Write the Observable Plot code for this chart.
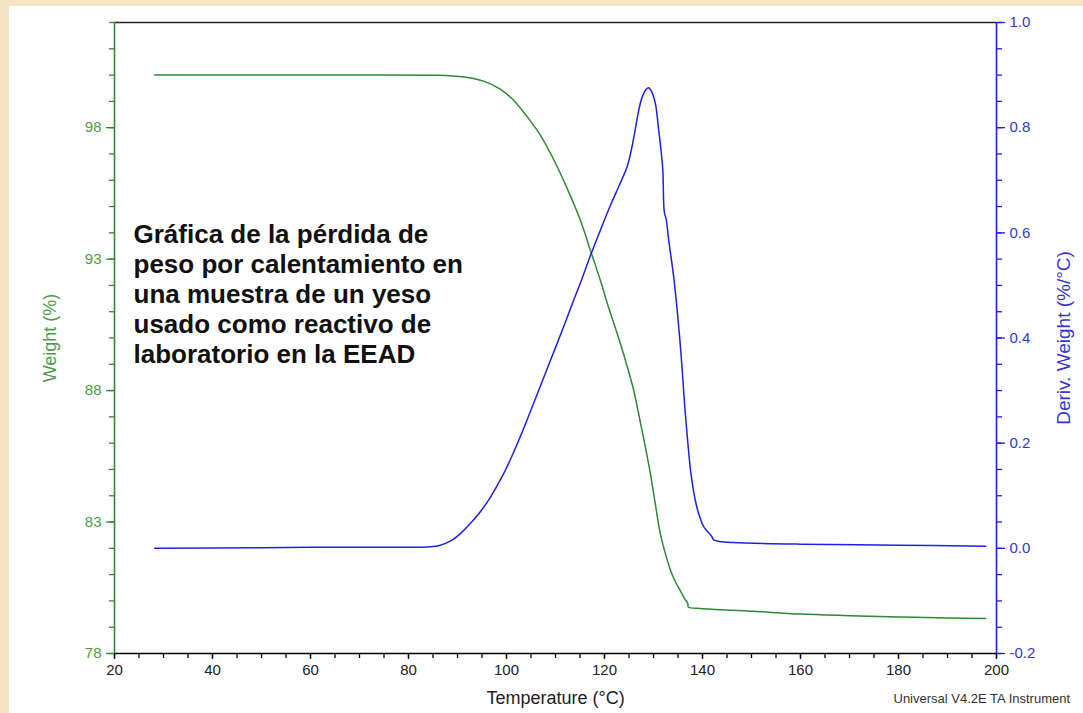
<!DOCTYPE html>
<html>
<head>
<meta charset="utf-8">
<script src="https://cdn.jsdelivr.net/npm/d3@7"></script>
<script src="https://cdn.jsdelivr.net/npm/@observablehq/plot@0.6"></script>
<style>
  html, body { margin: 0; padding: 0; width: 1083px; height: 713px; overflow: hidden; background: #f6e4c2; }
  #panel { position: absolute; left: 9px; top: 6px; width: 1074px; height: 707px; background: #ffffff; }
  #chart { position: absolute; left: 0; top: 0; }
</style>
</head>
<body>
<div id="panel"></div>
<div id="chart"></div>
<script>
// Weight (%) curve
const weightTemp = [28.2, 50, 70, 86, 88.6, 92.0, 95.3, 98.8, 101.4, 104.2, 106.9, 109.6, 112.4, 115.1, 117.1, 119.2, 120.6, 123.3, 125.9, 127.2, 128.4, 129.4, 130.4, 131.4, 132.5, 133.5, 134.5, 135.5, 136.3, 137.0, 137.1, 139.6, 150, 160, 170, 180, 190, 197.8];
const weightVal  = [100.0, 100.0, 100.0, 99.99, 99.97, 99.91, 99.77, 99.46, 99.05, 98.42, 97.72, 96.80, 95.68, 94.47, 93.35, 92.17, 91.30, 89.75, 88.05, 86.9, 85.8, 84.8, 83.65, 82.55, 81.75, 81.15, 80.72, 80.38, 80.10, 79.90, 79.77, 79.71, 79.61, 79.50, 79.44, 79.39, 79.35, 79.33];

// Derivative weight (%/°C) curve
const derivTemp = [28.2, 50, 60, 80, 84.5, 86.5, 88.6, 90.7, 92.7, 94.7, 96.7, 98.8, 100.8, 103.5, 106.3, 109, 111.6, 113.8, 115.1, 117.1, 119.2, 121.2, 123, 124.6, 125.3, 126, 126.7, 127.3, 127.8, 128.5, 129.0, 129.6, 130.4, 131.0, 131.5, 131.9, 132.2, 132.6, 133.1, 134.2, 135.5, 136.5, 137.6, 138.2, 138.8, 139.5, 140.2, 141.0, 141.8, 142.3, 143.5, 146.3, 160, 180, 197.8];
const derivVal  = [0.000, 0.001, 0.002, 0.002, 0.003, 0.006, 0.014, 0.029, 0.048, 0.070, 0.097, 0.131, 0.169, 0.228, 0.294, 0.358, 0.420, 0.474, 0.505, 0.556, 0.606, 0.652, 0.690, 0.725, 0.750, 0.782, 0.819, 0.846, 0.861, 0.873, 0.876, 0.869, 0.845, 0.800, 0.760, 0.720, 0.640, 0.625, 0.586, 0.510, 0.383, 0.256, 0.145, 0.108, 0.080, 0.058, 0.042, 0.032, 0.024, 0.016, 0.013, 0.011, 0.008, 0.006, 0.004];

// Tick values
const xTicks = [20, 40, 60, 80, 100, 120, 140, 160, 180, 200];
const xMinorTicks = d3.range(20, 200.01, 5);
const weightTicks = [78, 83, 88, 93, 98];
const weightMinorTicks = d3.range(78, 102.01, 1);
const derivTicks = [-0.2, 0.0, 0.2, 0.4, 0.6, 0.8, 1.0];
const derivMinorTicks = d3.range(-0.2, 1.001, 0.05);

const annotation = "Gráfica de la pérdida de\npeso por calentamiento en\nuna muestra de un yeso\nusado como reactivo de\nlaboratorio en la EEAD";

const green = "#2e8a33", greenText = "#4a9e4a";
const blue = "#2020e0", blueText = "#3636cc";

// map derivative values onto the weight scale (right axis [-0.2,1.0] <-> left axis [78,102])
const toW = d => 78 + (d + 0.2) * 20;
const fromW = w => Math.round(((w - 78) / 20 - 0.2) * 10) / 10;

const weightData = weightTemp.map((t, i) => ({t, v: weightVal[i]}));
const derivData = derivTemp.map((t, i) => ({t, v: toW(derivVal[i])}));

const chart = Plot.plot({
  width: 1083,
  height: 713,
  marginLeft: 114,
  marginRight: 87,
  marginTop: 22,
  marginBottom: 60,
  x: {domain: [20, 200]},
  y: {domain: [78, 102]},
  style: {background: "transparent", fontFamily: "'Liberation Sans', Arial, sans-serif", fontSize: "15px", color: "#000"},
  marks: [
    // minor ticks
    Plot.axisX({ticks: xMinorTicks, tickSize: 5, tickFormat: () => "", label: null, stroke: "#000", strokeWidth: 1.3, strokeOpacity: 1}),
    Plot.axisY({anchor: "left", ticks: weightMinorTicks, tickSize: 5, tickFormat: () => "", label: null, stroke: green, strokeWidth: 1.3, strokeOpacity: 1}),
    Plot.axisY({anchor: "right", ticks: derivMinorTicks.map(toW), tickSize: 5, tickFormat: () => "", label: null, stroke: blue, strokeWidth: 1.3, strokeOpacity: 1}),
    // major ticks with labels
    Plot.axisX({ticks: xTicks, tickSize: 6, tickPadding: 5, tickFormat: d => String(d), label: null, stroke: "#000", fill: "#222", strokeWidth: 1.3, strokeOpacity: 1, fontSize: 15}),
    Plot.axisY({anchor: "left", ticks: weightTicks, tickSize: 8, tickPadding: 5, tickFormat: d => String(d), label: null, stroke: green, fill: greenText, strokeWidth: 1.3, strokeOpacity: 1, fontSize: 15}),
    Plot.axisY({anchor: "right", ticks: derivTicks.map(toW), tickSize: 8, tickPadding: 5, tickFormat: w => fromW(w).toFixed(1), label: null, stroke: blue, fill: blueText, strokeWidth: 1.3, strokeOpacity: 1, fontSize: 15}),
    // frame
    Plot.ruleY([102], {stroke: "#222", strokeWidth: 1.6}),
    Plot.ruleY([78], {stroke: "#000", strokeWidth: 1.4}),
    Plot.ruleX([20], {stroke: green, strokeWidth: 1.6}),
    Plot.ruleX([200], {stroke: blue, strokeWidth: 1.6}),
    // curves
    Plot.line(weightData, {x: "t", y: "v", stroke: green, strokeWidth: 1.5, curve: "catmull-rom"}),
    Plot.line(derivData, {x: "t", y: "v", stroke: blue, strokeWidth: 1.5, curve: "catmull-rom"}),
    // axis titles
    Plot.text(["Weight (%)"], {text: d => d, frameAnchor: "left", dx: -64, rotate: -90, textAnchor: "middle", fill: greenText, fontSize: 18}),
    Plot.text(["Deriv. Weight (%/°C)"], {text: d => d, frameAnchor: "right", dx: 67, rotate: -90, textAnchor: "middle", fill: blueText, fontSize: 19}),
    Plot.text(["Temperature (°C)"], {text: d => d, frameAnchor: "bottom", dy: 50, textAnchor: "middle", fill: "#222", fontSize: 18}),
    Plot.text(["Universal V4.2E TA Instrument"], {text: d => d, frameAnchor: "bottom-right", dx: -103, dy: 49, textAnchor: "start", fill: "#333", fontSize: 13}),
    // annotation
    Plot.text([annotation], {text: d => d, frameAnchor: "left", dx: 19, dy: -44.5, textAnchor: "start", lineAnchor: "middle", lineHeight: 1.15, fill: "#111", fontSize: 26, fontWeight: "bold"})
  ]
});
document.getElementById("chart").appendChild(chart);
</script>
</body>
</html>
